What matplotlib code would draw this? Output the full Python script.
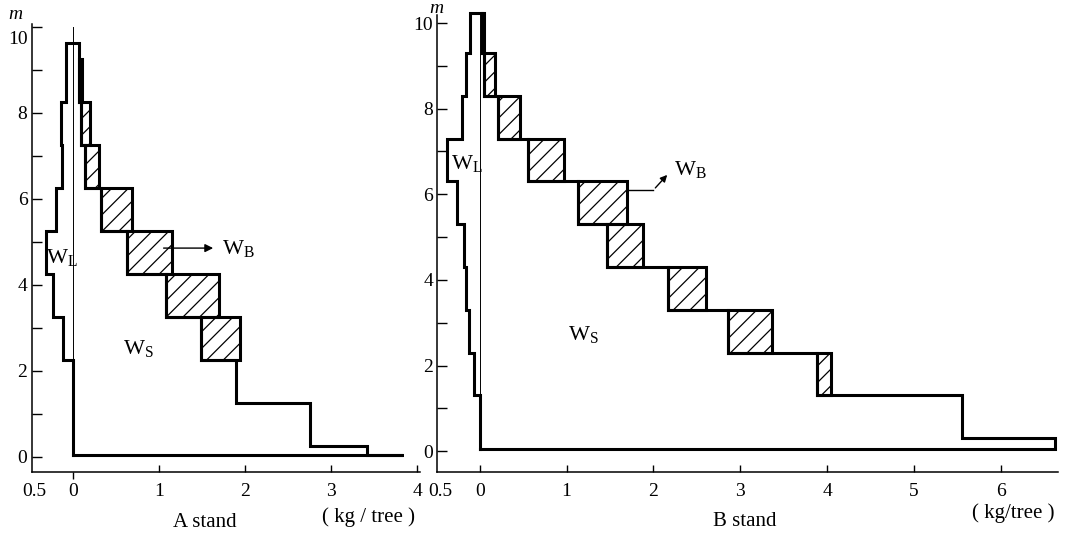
import matplotlib
matplotlib.use('Agg')
import matplotlib.pyplot as plt
import matplotlib.lines as mlines
import numpy as np
from matplotlib.patches import Rectangle

plt.rcParams['font.family'] = ['Liberation Serif', 'DejaVu Serif']
plt.rcParams['mathtext.fontset'] = 'custom'
plt.rcParams['mathtext.rm'] = 'Liberation Serif'
plt.rcParams['mathtext.it'] = 'Liberation Serif:italic'
plt.rcParams['hatch.linewidth'] = 0.9

# A stand: layer boundaries (m) and widths per layer (kg/tree)
heights_a = [0.03, 0.25, 1.25, 2.25, 3.25, 4.25, 5.25, 6.25, 7.25, 8.25, 9.25, 9.62]
stem_a = [3.42, 2.75, 1.89, 1.49, 1.08, 0.63, 0.33, 0.145, 0.097, 0.075, 0.075]
total_a = [3.42, 2.75, 1.89, 1.94, 1.69, 1.15, 0.69, 0.30, 0.20, 0.105, 0.075]
leaf_a = [0, 0, 0, 0.12, 0.23, 0.31, 0.20, 0.13, 0.14, 0.08, 0.077]
base_a = 3.83

# B stand
heights_b = [0.05, 0.3, 1.3, 2.3, 3.3, 4.3, 5.3, 6.3, 7.3, 8.3, 9.3, 10.23]
stem_b = [6.62, 5.55, 3.88, 2.86, 2.17, 1.47, 1.13, 0.56, 0.21, 0.05, 0.03]
total_b = [6.62, 5.55, 4.04, 3.37, 2.60, 1.88, 1.69, 0.97, 0.46, 0.17, 0.05]
leaf_b = [0, 0, 0.07, 0.12, 0.16, 0.18, 0.26, 0.38, 0.21, 0.16, 0.11]
base_b = 6.62

LW = 2.2


def draw_stand(ax, heights, stem, total, leaf, base_end):
    h = np.array(heights)
    lo, hi = h[:-1], h[1:]
    stem = np.array(stem)
    total = np.array(total)
    leaf = np.array(leaf)
    # right side (stem) going up, then leaves going down
    xr = np.repeat(stem, 2)
    yr = np.column_stack([lo, hi]).ravel()
    xl = -np.repeat(leaf[::-1], 2)
    yl = np.column_stack([hi[::-1], lo[::-1]]).ravel()
    xs = np.concatenate([[0, base_end], xr, xl])
    ys = np.concatenate([[lo[0], lo[0]], yr, yl])
    ax.plot(xs, ys, color='k', lw=LW, solid_joinstyle='miter', clip_on=False)
    # branch boxes
    for s, t, a, b in zip(stem, total, lo, hi):
        if t - s > 1e-6:
            ax.add_patch(Rectangle((s, a), t - s, b - a, fill=False, hatch='//',
                                   edgecolor='k', lw=LW, joinstyle='miter', clip_on=False))
    # thin centre line
    ax.plot([0, 0], [lo[0], max(10.0, hi[-1])], color='k', lw=0.7, clip_on=False)


def style_axes(ax, xmax_tick, drop_ten=False):
    for sp in ['top', 'right']:
        ax.spines[sp].set_visible(False)
    for sp in ['left', 'bottom']:
        ax.spines[sp].set_linewidth(1.1)
    xt = [-0.45] + list(range(0, xmax_tick + 1))
    ax.set_xticks(xt, ['0.5'] + [str(v) for v in range(0, xmax_tick + 1)])
    ax.xaxis.get_major_ticks()[0].tick1line.set_visible(False)
    ylab = [str(v) if v % 2 == 0 else '' for v in range(0, 11)]
    if drop_ten:
        ylab[10] = ''
    ax.set_yticks(range(0, 11), ylab)
    ax.tick_params(axis='x', direction='in', length=5, width=1, pad=8, labelsize=14)
    ax.tick_params(axis='y', direction='in', length=7, width=1, pad=3, labelsize=14)


fig = plt.figure(figsize=(10.66, 5.37), dpi=100)

ax1 = fig.add_axes([0.0297, 0.1216, 0.3643, 0.8328])
draw_stand(ax1, heights_a, stem_a, total_a, leaf_a, base_a)
ax1.set_xlim(-0.48, 4.03)
ax1.set_ylim(-0.35, 10.05)
style_axes(ax1, 4, drop_ten=True)
# in the original the "10" sits a little below its tick
ax1.annotate('10', xy=(0, 10), xycoords=('axes fraction', 'data'), xytext=(-3, -9),
             textcoords='offset points', ha='right', va='center', fontsize=14)
ax1.xaxis.get_major_ticks()[1].tick1line.set_marker(mlines.TICKDOWN)
ax1.text(-0.67, 10.28, 'm', style='italic', fontsize=14, ha='center', va='center')
ax1.text(-0.13, 4.64, r'$\mathrm{W_L}$', fontsize=16, ha='center', va='center')
ax1.text(0.76, 2.52, r'$\mathrm{W_S}$', fontsize=16, ha='center', va='center')
ax1.text(1.92, 4.85, r'$\mathrm{W_B}$', fontsize=16, ha='center', va='center')
ax1.annotate('', xy=(1.66, 4.85), xytext=(1.02, 4.85),
             arrowprops=dict(arrowstyle='-|>', color='k', lw=1, mutation_scale=12))
ax1.text(1.53, -1.52, 'A stand', fontsize=15, ha='center', va='center')
ax1.text(3.43, -1.40, '( kg / tree )', fontsize=15, ha='center', va='center')

ax2 = fig.add_axes([0.4102, 0.1216, 0.5823, 0.8555])
draw_stand(ax2, heights_b, stem_b, total_b, leaf_b, base_b)
ax2.set_xlim(-0.49, 6.66)
ax2.set_ylim(-0.48, 10.25)
ax2.spines['left'].set_bounds(-0.48, 10.18)
style_axes(ax2, 6)
ax2.text(-0.5, 10.33, 'm', style='italic', fontsize=14, ha='center', va='center')
ax2.text(-0.15, 6.72, r'$\mathrm{W_L}$', fontsize=16, ha='center', va='center')
ax2.text(1.19, 2.73, r'$\mathrm{W_S}$', fontsize=16, ha='center', va='center')
ax2.text(2.42, 6.57, r'$\mathrm{W_B}$', fontsize=16, ha='center', va='center')
ax2.plot([1.69, 2.0], [6.1, 6.1], color='k', lw=1)
ax2.annotate('', xy=(2.18, 6.5), xytext=(2.0, 6.1),
             arrowprops=dict(arrowstyle='-|>', color='k', lw=1, mutation_scale=10))
ax2.text(3.05, -1.65, 'B stand', fontsize=15, ha='center', va='center')
ax2.text(6.15, -1.45, '( kg/tree )', fontsize=15, ha='center', va='center')

fig.savefig('out.png', dpi=100)
